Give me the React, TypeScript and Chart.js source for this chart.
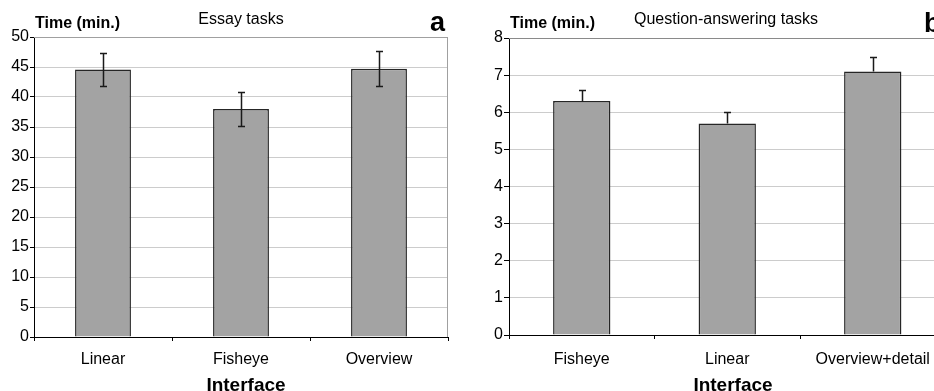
import React, { useEffect, useRef } from "react";
import { Chart, registerables } from "chart.js";

Chart.register(...registerables);

const leftCategories = ["Linear", "Fisheye", "Overview"];
const leftValues = [44.6, 38.0, 44.7];
const leftErrors = [2.7, 2.9, 2.9];
const leftTicks = { min: 0, max: 50, step: 5 };

const rightCategories = ["Fisheye", "Linear", "Overview+detail"];
const rightValues = [6.3, 5.7, 7.1];
const rightErrors = [0.3, 0.3, 0.4];
const rightTicks = { min: 0, max: 8, step: 1 };

const FONT = "'Liberation Sans', Arial, Helvetica, sans-serif";

type TextItem = { text: string; x: number; y: number; size: number; bold?: boolean; align?: CanvasTextAlign };

function makeChart(
  canvas: HTMLCanvasElement,
  cfg: {
    categories: string[];
    values: number[];
    errors: number[];
    ticks: { min: number; max: number; step: number };
    symmetric: boolean;
    yWidth: number;
    xHeight: number;
    padding: { left: number; right: number; top: number; bottom: number };
    barPct: number;
    texts: TextItem[];
    borderRight: boolean;
    topColor: string;
    yTickLen: number;
    xTickPad: number;
  }
) {
  const overlay = {
    id: "overlay",
    beforeDatasetsDraw(chart: any) {
      const { ctx, chartArea } = chart;
      ctx.save();
      ctx.strokeStyle = cfg.topColor;
      ctx.lineWidth = 1;
      ctx.beginPath();
      ctx.moveTo(chartArea.left, Math.round(chartArea.top) + 0.5);
      ctx.lineTo(chartArea.right, Math.round(chartArea.top) + 0.5);
      if (cfg.borderRight) {
        ctx.moveTo(Math.round(chartArea.right) - 0.5, chartArea.top);
        ctx.lineTo(Math.round(chartArea.right) - 0.5, chartArea.bottom);
      }
      ctx.stroke();
      ctx.restore();
    },
    afterDatasetsDraw(chart: any) {
      const { ctx } = chart;
      const meta = chart.getDatasetMeta(0);
      const yScale = chart.scales.y;
      ctx.save();
      ctx.strokeStyle = "#1a1a1a";
      ctx.lineWidth = 1.5;
      meta.data.forEach((bar: any, i: number) => {
        const v = cfg.values[i];
        const e = cfg.errors[i];
        const x = Math.round(bar.x) + 0.5;
        const yTop = Math.round(yScale.getPixelForValue(v + e)) + 0.5;
        const yBot = Math.round(yScale.getPixelForValue(cfg.symmetric ? v - e : v)) + 0.5;
        ctx.beginPath();
        ctx.moveTo(x, yTop);
        ctx.lineTo(x, yBot);
        ctx.moveTo(x - 3.5, yTop);
        ctx.lineTo(x + 3.5, yTop);
        if (cfg.symmetric) {
          ctx.moveTo(x - 3.5, yBot);
          ctx.lineTo(x + 3.5, yBot);
        }
        ctx.stroke();
      });
      ctx.restore();
    },
    afterDraw(chart: any) {
      const { ctx } = chart;
      ctx.save();
      ctx.fillStyle = "#000";
      ctx.textBaseline = "alphabetic";
      cfg.texts.forEach((t) => {
        ctx.font = `${t.bold ? "bold " : ""}${t.size}px ${FONT}`;
        ctx.textAlign = t.align || "left";
        ctx.fillText(t.text, t.x, t.y);
      });
      ctx.restore();
    },
  };

  return new Chart(canvas, {
    type: "bar",
    data: {
      labels: cfg.categories,
      datasets: [
        {
          data: cfg.values,
          backgroundColor: "#a3a3a3",
          borderColor: "#262626",
          borderWidth: 1.5,
          barPercentage: cfg.barPct,
          categoryPercentage: 1,
        },
      ],
    },
    options: {
      animation: false,
      responsive: false,
      devicePixelRatio: 1,
      layout: { padding: cfg.padding },
      plugins: { legend: { display: false }, tooltip: { enabled: false }, title: { display: false } },
      scales: {
        x: {
          afterFit: (s: any) => {
            s.height = cfg.xHeight;
          },
          grid: {
            offset: true,
            drawOnChartArea: false,
            drawTicks: true,
            tickLength: 4,
            tickColor: "#000",
          },
          border: { display: true, color: "#000", width: 1 },
          ticks: {
            color: "#000",
            font: { family: FONT, size: 16 },
            padding: cfg.xTickPad,
            autoSkip: false,
            maxRotation: 0,
          },
        },
        y: {
          min: cfg.ticks.min,
          max: cfg.ticks.max,
          afterFit: (s: any) => {
            s.width = cfg.yWidth;
          },
          grid: {
            color: "#cccccc",
            tickColor: "#000",
            tickLength: cfg.yTickLen,
            drawTicks: true,
          },
          border: { display: true, color: "#000", width: 1 },
          ticks: {
            stepSize: cfg.ticks.step,
            color: "#000",
            font: { family: FONT, size: 16 },
            padding: 1,
          },
        },
      },
    },
    plugins: [overlay],
  } as any);
}

export default function App() {
  const leftRef = useRef<HTMLCanvasElement>(null);
  const rightRef = useRef<HTMLCanvasElement>(null);

  useEffect(() => {
    const c1 = makeChart(leftRef.current!, {
      categories: leftCategories,
      values: leftValues,
      errors: leftErrors,
      ticks: leftTicks,
      symmetric: true,
      yWidth: 34,
      xHeight: 54,
      padding: { left: 0, right: 22, top: 37, bottom: 0 },
      barPct: 0.405,
      borderRight: true,
      topColor: "#a0a0a0",
      yTickLen: 4,
      xTickPad: 9,
      texts: [
        { text: "Time (min.)", x: 35, y: 28, size: 16, bold: true },
        { text: "Essay tasks", x: 241, y: 24, size: 16, align: "center" },
        { text: "a", x: 430, y: 31, size: 27, bold: true },
        { text: "Interface", x: 246, y: 391, size: 19, bold: true, align: "center" },
      ],
    });
    const c2 = makeChart(rightRef.current!, {
      categories: rightCategories,
      values: rightValues,
      errors: rightErrors,
      ticks: rightTicks,
      symmetric: false,
      yWidth: 39,
      xHeight: 56,
      padding: { left: 0, right: 4.5, top: 38, bottom: 0 },
      barPct: 0.394,
      borderRight: false,
      topColor: "#8a8a8a",
      yTickLen: 5,
      xTickPad: 11,
      texts: [
        { text: "Time (min.)", x: 40, y: 28, size: 16, bold: true },
        { text: "Question-answering tasks", x: 256, y: 24, size: 16, align: "center" },
        { text: "b", x: 454, y: 32, size: 27, bold: true },
        { text: "Interface", x: 263, y: 391, size: 19, bold: true, align: "center" },
      ],
    });
    return () => {
      c1.destroy();
      c2.destroy();
    };
  }, []);

  return (
    <div
      style={{
        position: "fixed",
        left: 0,
        top: 0,
        width: 934,
        height: 391,
        overflow: "hidden",
        background: "#fff",
      }}
    >
      <canvas ref={leftRef} width={470} height={391} style={{ position: "absolute", left: 0, top: 0, width: 470, height: 391 }} />
      <canvas ref={rightRef} width={480} height={391} style={{ position: "absolute", left: 470, top: 0, width: 480, height: 391 }} />
    </div>
  );
}
